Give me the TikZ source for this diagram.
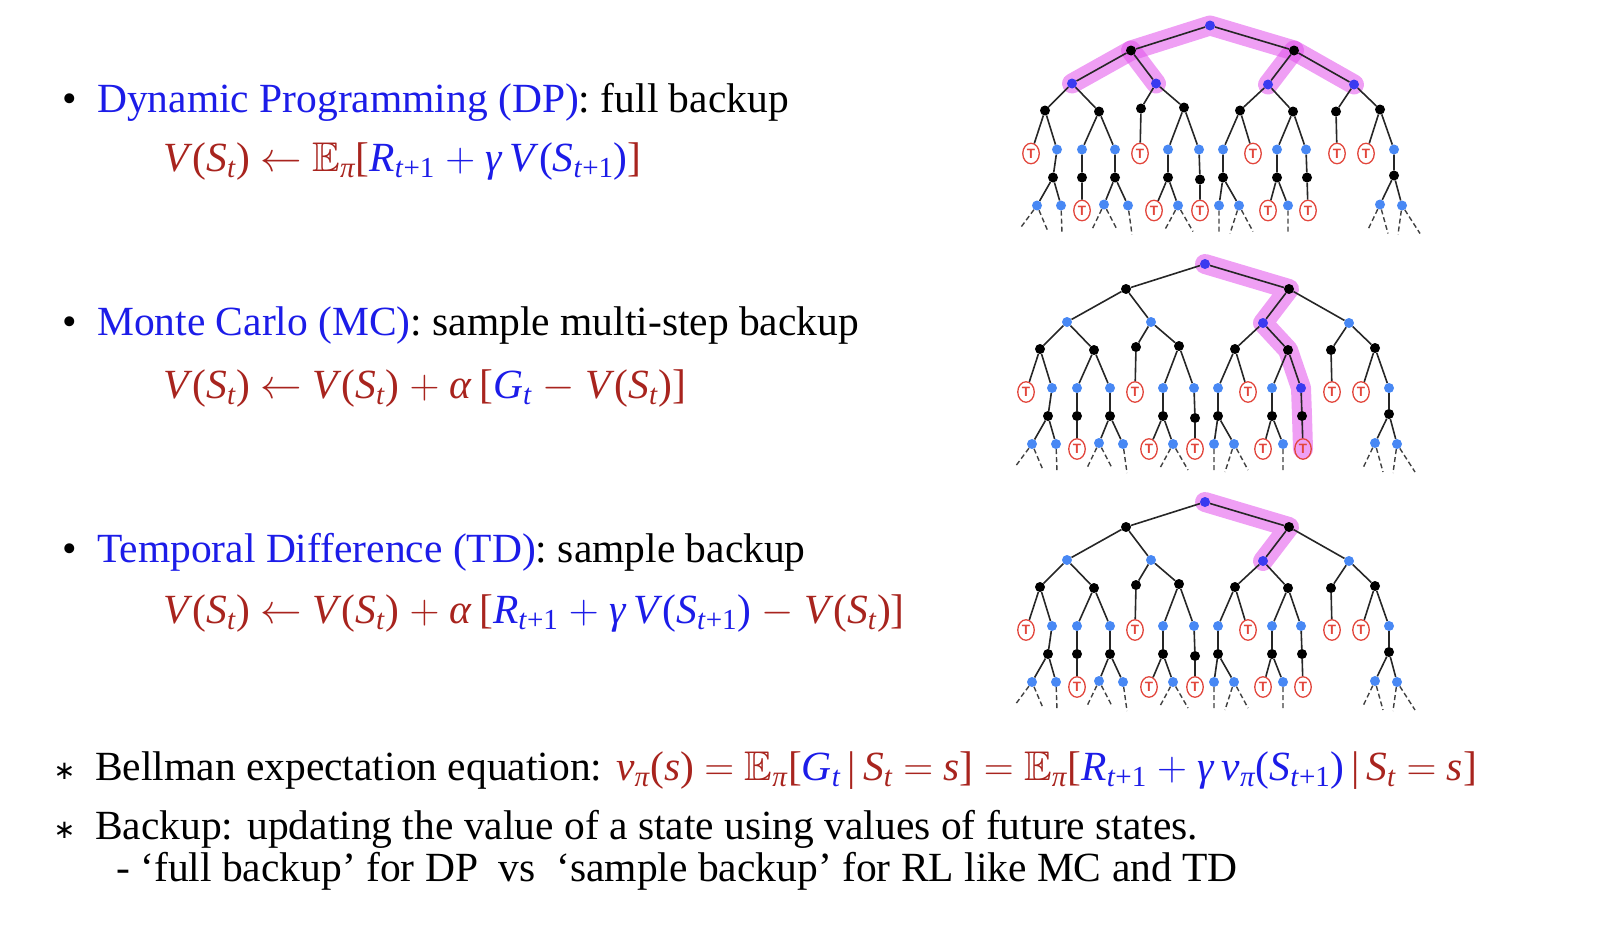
\RequirePackage{fix-cm}
\documentclass[tikz,border=0pt]{standalone}
\usepackage{amssymb}
\usepackage{fontspec}
\setmainfont{Liberation Serif}
\newfontfamily\tfont{Liberation Sans}
\newfontfamily\symfont{DejaVu Sans}
\usetikzlibrary{shapes.geometric}

\definecolor{hdblue}{RGB}{28,28,232}
\definecolor{eqred}{RGB}{168,36,30}
\definecolor{nodeblue}{RGB}{72,136,244}
\definecolor{hotblue}{RGB}{58,58,240}
\definecolor{termred}{RGB}{226,70,60}
\definecolor{glow}{RGB}{225,80,235}
\definecolor{glowfill}{RGB}{238,160,244}

\pgfdeclarelayer{glowlayer}
\pgfsetlayers{glowlayer,main}

% pieces of the update formulas
\newcommand\sbt{\textsubscript{\textit{t}}}
\newcommand\sbtone{\textsubscript{\textit{t}+1}}
\newcommand\Ep{$\mathbb{E}$\textsubscript{\textit{π}}}
\newcommand\VS{\textit{V}(\textit{S}\sbt)}
\newcommand\VSone{\textit{V}(\textit{S}\sbtone)}

\tikzset{
  dotb/.style={circle, fill=nodeblue, inner sep=0pt, minimum size=10bp},
  dotk/.style={circle, fill=black, inner sep=0pt, minimum size=10bp},
  termnode/.style={ellipse, draw=termred, line width=1.3bp, fill=white, inner sep=0pt,
    minimum width=16.5bp, minimum height=20.5bp, text=termred,
    font=\tfont\bfseries\fontsize{13.5bp}{13.5bp}\selectfont},
  linkline/.style={line width=1.6bp, draw=black!85},
  tailline/.style={line width=1.4bp, draw=black!75, dash pattern=on 5bp off 3bp},
  glowline/.style={line width=20bp, draw=glow, opacity=0.55, line cap=round, line join=round},
  txt/.style={anchor=base west, inner sep=0pt, font=\fontsize{41.5bp}{48bp}\selectfont},
  bulletmark/.style={anchor=base, inner sep=0pt, font=\fontsize{41.5bp}{48bp}\selectfont},
  starmark/.style={anchor=center, inner sep=0pt, font=\symfont\fontsize{26bp}{26bp}\selectfont},
}

% one backup tree; #1 is the name prefix
\newcommand\searchtree[1]{%
  % states and actions
  \node[dotb,hot/#1r/.try] (#1r) at (1205,264) {};
  \node[dotk] (#1a1) at (1126,289) {};
  \node[dotk] (#1a2) at (1289,289) {};
  \node[dotb,hot/#1b1/.try] (#1b1) at (1067,322) {};
  \node[dotb,hot/#1b2/.try] (#1b2) at (1151,322) {};
  \node[dotb,hot/#1b3/.try] (#1b3) at (1263,323) {};
  \node[dotb,hot/#1b4/.try] (#1b4) at (1349,323) {};
  \node[dotk] (#1c1) at (1040,349) {};
  \node[dotk] (#1c2) at (1094,350) {};
  \node[dotk] (#1c3) at (1136,347) {};
  \node[dotk] (#1c4) at (1179,346) {};
  \node[dotk] (#1c5) at (1235,349) {};
  \node[dotk] (#1c6) at (1288,350) {};
  \node[dotk] (#1c7) at (1331,350) {};
  \node[dotk] (#1c8) at (1375,348) {};
  \node[termnode] (#1d1) at (1026,392) {T};
  \node[dotb] (#1d2) at (1052,388) {};
  \node[dotb] (#1d3) at (1077,388) {};
  \node[dotb] (#1d4) at (1110,388) {};
  \node[termnode] (#1d5) at (1135,392) {T};
  \node[dotb] (#1d6) at (1163,388) {};
  \node[dotb] (#1d7) at (1194,388) {};
  \node[dotb] (#1d8) at (1218,388) {};
  \node[termnode] (#1d9) at (1248,392) {T};
  \node[dotb] (#1d10) at (1272,388) {};
  \node[dotb,hot/#1d11/.try] (#1d11) at (1301,388) {};
  \node[termnode] (#1d12) at (1332,392) {T};
  \node[termnode] (#1d13) at (1361,392) {T};
  \node[dotb] (#1d14) at (1389,388) {};
  \node[dotk] (#1e1) at (1048,416) {};
  \node[dotk] (#1e2) at (1077,416) {};
  \node[dotk] (#1e3) at (1110,416) {};
  \node[dotk] (#1e4) at (1163,416) {};
  \node[dotk] (#1e5) at (1195,418) {};
  \node[dotk] (#1e6) at (1218,416) {};
  \node[dotk] (#1e7) at (1272,416) {};
  \node[dotk] (#1e8) at (1302,416) {};
  \node[dotk] (#1e9) at (1389,414) {};
  \node[dotb] (#1f1) at (1032,444) {};
  \node[dotb] (#1f2) at (1056,444) {};
  \node[termnode] (#1f3) at (1077,449) {T};
  \node[dotb] (#1f4) at (1099,443) {};
  \node[dotb] (#1f5) at (1123,444) {};
  \node[termnode] (#1f6) at (1149,449) {T};
  \node[dotb] (#1f7) at (1173,444) {};
  \node[termnode] (#1f8) at (1195,449) {T};
  \node[dotb] (#1f9) at (1214,444) {};
  \node[dotb] (#1f10) at (1234,444) {};
  \node[termnode] (#1f11) at (1263,449) {T};
  \node[dotb] (#1f12) at (1283,444) {};
  \node[termnode,hot/#1f13/.try] (#1f13) at (1303,449) {T};
  \node[dotb] (#1f14) at (1375,443) {};
  \node[dotb] (#1f15) at (1397,444) {};
  % loose ends below the last level
  \coordinate (#1t1) at (1015,467);
  \coordinate (#1t2) at (1043,470);
  \coordinate (#1t3) at (1057,472);
  \coordinate (#1t4) at (1087,468);
  \coordinate (#1t5) at (1112,468);
  \coordinate (#1t6) at (1127,473);
  \coordinate (#1t7) at (1160,468);
  \coordinate (#1t8) at (1188,470);
  \coordinate (#1t9) at (1214,473);
  \coordinate (#1t10) at (1225,472);
  \coordinate (#1t11) at (1248,470);
  \coordinate (#1t12) at (1283,473);
  \coordinate (#1t13) at (1363,468);
  \coordinate (#1t14) at (1383,472);
  \coordinate (#1t15) at (1393,473);
  \coordinate (#1t16) at (1415,472);
  % edges
  \draw[linkline] (#1r) -- (#1a1) (#1r) -- (#1a2)
    (#1a1) -- (#1b1) (#1a1) -- (#1b2) (#1a2) -- (#1b3) (#1a2) -- (#1b4)
    (#1b1) -- (#1c1) (#1b1) -- (#1c2) (#1b2) -- (#1c3) (#1b2) -- (#1c4)
    (#1b3) -- (#1c5) (#1b3) -- (#1c6) (#1b4) -- (#1c7) (#1b4) -- (#1c8)
    (#1c1) -- (#1d1) (#1c1) -- (#1d2) (#1c2) -- (#1d3) (#1c2) -- (#1d4)
    (#1c3) -- (#1d5) (#1c4) -- (#1d6) (#1c4) -- (#1d7)
    (#1c5) -- (#1d8) (#1c5) -- (#1d9) (#1c6) -- (#1d10) (#1c6) -- (#1d11)
    (#1c7) -- (#1d12) (#1c8) -- (#1d13) (#1c8) -- (#1d14)
    (#1d2) -- (#1e1) (#1d3) -- (#1e2) (#1d4) -- (#1e3) (#1d6) -- (#1e4)
    (#1d7) -- (#1e5) (#1d8) -- (#1e6) (#1d10) -- (#1e7) (#1d11) -- (#1e8)
    (#1d14) -- (#1e9)
    (#1e1) -- (#1f1) (#1e1) -- (#1f2) (#1e2) -- (#1f3) (#1e3) -- (#1f4)
    (#1e3) -- (#1f5) (#1e4) -- (#1f6) (#1e4) -- (#1f7) (#1e5) -- (#1f8)
    (#1e6) -- (#1f9) (#1e6) -- (#1f10) (#1e7) -- (#1f11) (#1e7) -- (#1f12)
    (#1e8) -- (#1f13) (#1e9) -- (#1f14) (#1e9) -- (#1f15);
  \draw[tailline] (#1f1) -- (#1t1) (#1f1) -- (#1t2) (#1f2) -- (#1t3)
    (#1f4) -- (#1t4) (#1f4) -- (#1t5) (#1f5) -- (#1t6)
    (#1f7) -- (#1t7) (#1f7) -- (#1t8) (#1f9) -- (#1t9)
    (#1f10) -- (#1t10) (#1f10) -- (#1t11) (#1f12) -- (#1t12)
    (#1f14) -- (#1t13) (#1f14) -- (#1t14) (#1f15) -- (#1t15) (#1f15) -- (#1t16);
}

\tikzset{
  hot/dpr/.style={fill=hotblue}, hot/dpb1/.style={fill=hotblue},
  hot/dpb2/.style={fill=hotblue}, hot/dpb3/.style={fill=hotblue},
  hot/dpb4/.style={fill=hotblue},
  hot/mcr/.style={fill=hotblue}, hot/mcb3/.style={fill=hotblue},
  hot/mcd11/.style={fill=hotblue}, hot/mcf13/.style={fill=glowfill},
  hot/tdr/.style={fill=hotblue}, hot/tdb3/.style={fill=hotblue},
}

\begin{document}
\begin{tikzpicture}[x=1bp, y=-1bp]
\useasboundingbox (0,0) rectangle (1606,924);

% ---- trees ----
\begin{scope}[shift={(5,-238.5)}]
  \searchtree{dp}
\end{scope}
\begin{scope}
  \searchtree{mc}
\end{scope}
\begin{scope}[shift={(0,238)}]
  \searchtree{td}
\end{scope}

\begin{pgfonlayer}{glowlayer}
  \draw[glowline] (dpb1.center) -- (dpa1.center) -- (dpr.center) -- (dpa2.center) -- (dpb4.center);
  \draw[glowline] (dpa1.center) -- (dpb2.center);
  \draw[glowline] (dpa2.center) -- (dpb3.center);
  \draw[glowline] (mcr.center) -- (mca2.center) -- (mcb3.center) -- (mcc6.center)
    -- (mcd11.center) -- (mce8.center) -- (mcf13.center);
  \draw[glowline] (tdr.center) -- (tda2.center) -- (tdb3.center);
\end{pgfonlayer}

% ---- text ----
\node[bulletmark] (bul1) at (70,112) {•};
\node[txt, text=hdblue] (dp) at (97,112) {Dynamic Programming (DP)\textcolor{black}{: full backup}};
\node[txt] (dpeq) at (163,171) {\textcolor{eqred}{\VS{} $\leftarrow$ \Ep[}\textcolor{hdblue}{\textit{R}\sbtone{} $+$ \textit{γ}\,\VSone}\textcolor{eqred}{]}};

\node[bulletmark] (bul2) at (70,335) {•};
\node[txt, text=hdblue] (mc) at (97,335) {Monte Carlo (MC)\textcolor{black}{: sample multi-step backup}};
\node[txt] (mceq) at (163,398) {\textcolor{eqred}{\VS{} $\leftarrow$ \VS{} $+$ \textit{α}\,[}\textcolor{hdblue}{\textit{G}\sbt}\textcolor{eqred}{~$-$ \VS]}};

\node[bulletmark] (bul3) at (70,562) {•};
\node[txt, text=hdblue] (td) at (97,562) {Temporal Difference (TD)\textcolor{black}{: sample backup}};
\node[txt] (tdeq) at (163,623) {\textcolor{eqred}{\VS{} $\leftarrow$ \VS{} $+$ \textit{α}\,[}\textcolor{hdblue}{\textit{R}\sbtone{} $+$ \textit{γ}\,\VSone}\textcolor{eqred}{~$-$ \VS]}};

\node[starmark] (ast1) at (64.5,771) {∗};
\node[txt] (bell) at (95,780) {Bellman expectation equation: \textcolor{eqred}{\textit{v}\textsubscript{\textit{π}}(\textit{s}) $=$ \Ep[}\textcolor{hdblue}{\textit{G}\sbt}\textcolor{eqred}{\,|\,\textit{S}\sbt{} $=$ \textit{s}] $=$ \Ep[}\textcolor{hdblue}{\textit{R}\sbtone{} $+$ \textit{γ}\,\textit{v}\textsubscript{\textit{π}}(\textit{S}\sbtone)}\textcolor{eqred}{\,|\,\textit{S}\sbt{} $=$ \textit{s}]}};

\node[starmark] (ast2) at (64.5,830) {∗};
\node[txt] (bk) at (95,839) {Backup: updating the value of a state using values of future states.};
\node[txt] (bk2) at (116,881) {- ‘full backup’ for DP~~vs~~‘sample backup’ for RL like MC and TD};
\end{tikzpicture}
\end{document}
